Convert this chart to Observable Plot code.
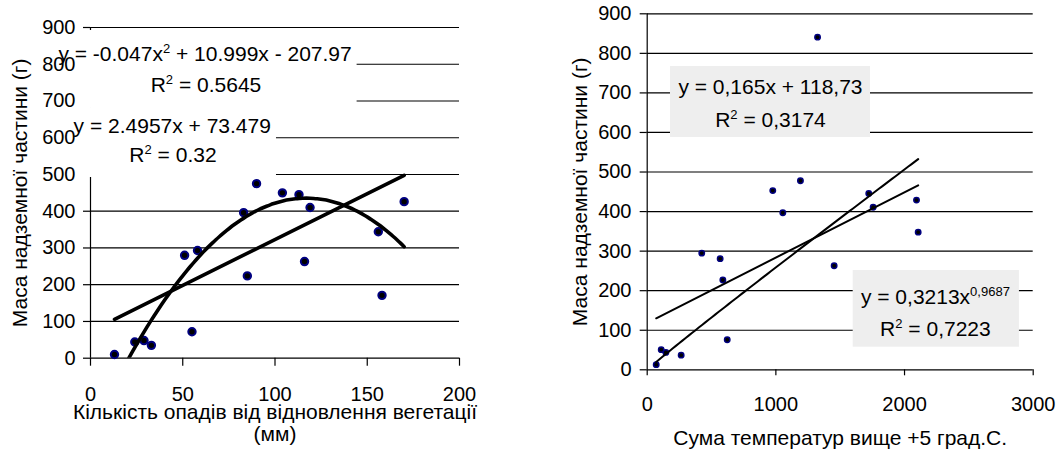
<!DOCTYPE html>
<html>
<head>
<meta charset="utf-8">
<script src="https://cdn.jsdelivr.net/npm/d3@7"></script>
<script src="https://cdn.jsdelivr.net/npm/@observablehq/plot@0.6"></script>
<style>
  body { margin: 0; background: #fff; }
  #chart { position: relative; width: 1063px; height: 452px; }
  #chart svg { position: absolute; top: 0; }
</style>
</head>
<body>
<div id="chart"></div>
<script>
// ---- data: above-ground mass vs. precipitation ----
const precipMm       = [13, 24, 29, 33, 51, 55, 58, 83, 85, 90, 104, 113, 116, 119, 156, 158, 170];
const massByPrecip   = [10, 44, 48, 35, 280, 72, 293, 396, 224, 475, 450, 445, 263, 410, 344, 171, 426];

// ---- data: above-ground mass vs. sum of temperatures above +5 °C ----
const tempSum        = [70, 109, 145, 264, 424, 567, 588, 622, 976, 1054, 1191, 1324, 1453, 1722, 1756, 2093, 2106];
const massByTemp     = [13, 51, 44, 37, 295, 281, 227, 76, 453, 397, 478, 841, 263, 446, 411, 429, 348];

// ---- trendline coefficients and R² ----
const quadCoef   = [-0.047, 10.999, -207.97];   // a, b, c
const quadR2     = 0.5645;
const linLeft    = [2.4957, 73.479];            // slope, intercept
const linLeftR2  = 0.32;
const linRight   = [0.165, 118.73];
const linRightR2 = 0.3174;
const powRight   = [0.3213, 0.9687];            // k, exponent
const powRightR2 = 0.7223;

// ---- axes ----
const massTicks   = [0, 100, 200, 300, 400, 500, 600, 700, 800, 900];
const precipTicks = [0, 50, 100, 150, 200];
const tempTicks   = [0, 1000, 2000, 3000];

const massTitle   = "Маса надземної частини (г)";
const precipTitle = "Кількість опадів від відновлення вегетації\n(мм)";
const tempTitle   = "Сума температур вище +5 град.С.";

// ---- styling ----
const FONT = '"Liberation Sans", Arial, sans-serif';
const LABEL_SIZE = 21;
const comma = v => String(v).replace(".", ",");

// equation labels ("^" marks a superscript, expanded after rendering)
const [qa, qb, qc] = quadCoef;
const leftLabels = [
  {text: `y = ${qa}x^2 + ${qb}x - ${-qc}`, x: 62.1, y: 826},
  {text: `R^2 = ${quadR2}`,                 x: 62.6, y: 743.5},
  {text: `y = ${linLeft[0]}x + ${linLeft[1]}`, x: 44.3, y: 632},
  {text: `R^2 = ${linLeftR2}`,              x: 44.7, y: 552.5}
];
const rightLabels = [
  {text: `y = ${comma(linRight[0])}x + ${comma(linRight[1])}`, x: 958, y: 715},
  {text: `R^2 = ${comma(linRightR2)}`,                          x: 958, y: 631.5},
  {text: `y = ${comma(powRight[0])}x^${comma(powRight[1])}`,    x: 2240, y: 184.5},
  {text: `R^2 = ${comma(powRightR2)}`,                          x: 2240, y: 101.5}
];

// trendline samples from the fitted equations over the observed x range
function sample(extent, f, n = 80) {
  return d3.range(n + 1).map(i => {
    const x = extent[0] + (extent[1] - extent[0]) * i / n;
    return {x, y: f(x)};
  });
}
const pExt = d3.extent(precipMm);
const tExt = d3.extent(tempSum);
const quadTrend    = sample(pExt, x => qa * x * x + qb * x + qc);
const linLeftLine  = sample(pExt, x => linLeft[0] * x + linLeft[1], 1);
const linRightLine = sample(tExt, x => linRight[0] * x + linRight[1], 1);
const powTrend     = sample(tExt, x => powRight[0] * Math.pow(x, powRight[1]));

const leftPts  = precipMm.map((x, i) => ({x, y: massByPrecip[i]}));
const rightPts = tempSum.map((x, i) => ({x, y: massByTemp[i]}));

const baseStyle = {fontFamily: FONT, fontSize: "20px", color: "black", background: "transparent", overflow: "visible"};
const gridStyle = {ticks: massTicks, stroke: "black", strokeOpacity: 1, strokeWidth: 1.2};

// ---- left chart: mass vs precipitation ----
const left = Plot.plot({
  width: 530, height: 452,
  marginLeft: 90, marginRight: 71, marginTop: 27, marginBottom: 94.3,
  x: {domain: [0, 200]},
  y: {domain: [0, 900]},
  style: baseStyle,
  marks: [
    Plot.gridY(gridStyle),
    Plot.ruleX([0], {stroke: "black", strokeWidth: 1.2}),
    Plot.axisY({ticks: massTicks, tickSize: 7, tickPadding: 8, label: null, tickFormat: "d", strokeWidth: 1.2}),
    Plot.axisX({ticks: precipTicks, tickSize: 8, tickPadding: 21, label: null, tickFormat: "d", strokeWidth: 1.2}),
    // label backgrounds hiding the grid behind the equations
    Plot.rect([{x1: -4, x2: 144.5, y1: 679.6, y2: 891.8}, {x1: -4, x2: 100.8, y1: 491.8, y2: 679.6}],
      {x1: "x1", x2: "x2", y1: "y1", y2: "y2", fill: "white"}),
    Plot.dot(leftPts, {x: "x", y: "y", r: 3.7, fill: "black", stroke: "#000080", strokeWidth: 2}),
    Plot.line(linLeftLine, {x: "x", y: "y", stroke: "black", strokeWidth: 3.6}),
    Plot.line(quadTrend, {x: "x", y: "y", stroke: "black", strokeWidth: 3.6, clip: true, curve: "monotone-x"}),
    Plot.text(leftLabels, {x: "x", y: "y", text: "text", fontSize: LABEL_SIZE, textAnchor: "middle"}),
    Plot.text([massTitle], {frameAnchor: "left", textAnchor: "middle", rotate: -90, dx: -70, fontSize: 21}),
    Plot.text([precipTitle], {frameAnchor: "bottom", lineAnchor: "top", dy: 45.5, lineHeight: 1.05, fontSize: 21})
  ]
});

// ---- right chart: mass vs sum of temperatures ----
const right = Plot.plot({
  width: 533, height: 452,
  marginLeft: 116.7, marginRight: 30.3, marginTop: 13.3, marginBottom: 82.7,
  x: {domain: [0, 3000]},
  y: {domain: [0, 900]},
  style: baseStyle,
  marks: [
    Plot.gridY(gridStyle),
    Plot.ruleX([0], {stroke: "black", strokeWidth: 1.2}),
    Plot.axisY({ticks: massTicks, tickSize: 7, tickPadding: 8.7, label: null, tickFormat: "d", strokeWidth: 1.2}),
    Plot.axisX({ticks: tempTicks, tickSize: 6, tickPadding: 20.5, label: null, tickFormat: "d", strokeWidth: 1.2}),
    // shaded equation boxes
    Plot.rect([{x1: 181, x2: 1735.5, y1: 587.4, y2: 766.7}, {x1: 1601, x2: 2893, y1: 57.1, y2: 251}],
      {x1: "x1", x2: "x2", y1: "y1", y2: "y2", fill: "#eeeeee"}),
    Plot.dot(rightPts, {x: "x", y: "y", r: 2.7, fill: "black", stroke: "#000080", strokeWidth: 1.5}),
    Plot.line(linRightLine, {x: "x", y: "y", stroke: "black", strokeWidth: 2}),
    Plot.line(powTrend, {x: "x", y: "y", stroke: "black", strokeWidth: 2}),
    Plot.text(rightLabels, {x: "x", y: "y", text: "text", fontSize: LABEL_SIZE, textAnchor: "middle"}),
    Plot.text([massTitle], {frameAnchor: "left", textAnchor: "middle", rotate: -90, dx: -67.2, fontSize: 21}),
    Plot.text([tempTitle], {frameAnchor: "bottom", lineAnchor: "top", dy: 60.7, fontSize: 21})
  ]
});

right.style.left = "530px";
left.style.left = "0px";

// expand "^exp" into raised, smaller tspans
function superscripts(svg) {
  d3.select(svg).selectAll("text").each(function () {
    const s = this.textContent;
    if (!s.includes("^")) return;
    const parts = s.split(/\^([^\s]+)/);
    const sel = d3.select(this);
    sel.text(null);
    const shift = LABEL_SIZE * 0.38;
    let raised = false;
    parts.forEach((p, i) => {
      if (i % 2 === 1) {
        sel.append("tspan").attr("font-size", LABEL_SIZE * 0.62).attr("dy", -shift).text(p);
        raised = true;
      } else if (p) {
        const t = sel.append("tspan").text(p);
        if (raised) { t.attr("dy", shift); raised = false; }
      }
    });
  });
}

const chart = document.getElementById("chart");
chart.append(left, right);
superscripts(left);
superscripts(right);
</script>
</body>
</html>
